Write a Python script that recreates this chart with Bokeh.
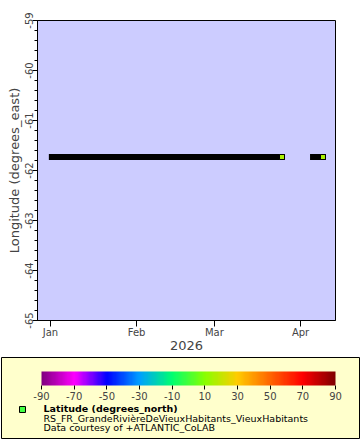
import numpy as np
from datetime import datetime
from bokeh.plotting import figure
from bokeh.layouts import column
from bokeh.models import (Range1d, SingleIntervalTicker, MonthsTicker, DatetimeTickFormatter,
                          LinearColorMapper, ColorBar, FixedTicker, ColumnDataSource,
                          PrintfTickFormatter)
from bokeh.core.properties import value
from bokeh.embed import file_html
from bokeh.resources import INLINE

# ---------------- data ----------------
# runs of (dense) observations: start time, end time, longitude, latitude
seg_start = [datetime(2026, 1, 1, 12), datetime(2026, 4, 5, 12)]
seg_end = [datetime(2026, 3, 25, 8), datetime(2026, 4, 9, 2)]
seg_lon = [-61.73, -61.73]
seg_lat = [16.05, 16.05]

x_start = datetime(2025, 12, 27, 8)
x_end = datetime(2026, 4, 13, 14)
y_start, y_end = -65, -59

cbar_ticks = [-90, -70, -50, -30, -10, 10, 30, 50, 70, 90]
cbar_anchor_colors = ["#800080", "#ff00ff", "#0000ff", "#00a0ff", "#00ff70",
                      "#88ff00", "#ffcc00", "#ff6600", "#ff0000", "#800000"]

legend_lines = ["Latitude (degrees_north)",
                "RS_FR_GrandeRivièreDeVieuxHabitants_VieuxHabitants",
                "Data courtesy of +ATLANTIC_CoLAB"]

FONT = "DejaVu Sans"

# palette from anchors
def hex2rgb(h):
    return [int(h[i:i + 2], 16) for i in (1, 3, 5)]

anc = np.array([hex2rgb(c) for c in cbar_anchor_colors], dtype=float)
pos = np.array(cbar_ticks, dtype=float)
vals = np.linspace(-90, 90, 256)
palette = []
for v in vals:
    rgb = [int(round(np.interp(v, pos, anc[:, k]))) for k in range(3)]
    palette.append("#%02x%02x%02x" % tuple(rgb))

mapper = LinearColorMapper(palette=palette, low=-90, high=90)

# ---------------- main plot ----------------
p = figure(width=360, height=355, x_axis_type="datetime",
           x_range=Range1d(x_start, x_end), y_range=Range1d(y_start, y_end),
           output_backend="svg", toolbar_location=None,
           min_border_left=37, min_border_top=20, min_border_right=25, min_border_bottom=35)
p.frame_align = False
p.background_fill_color = "#ccccff"
p.border_fill_color = "white"
p.outline_line_color = "black"
p.outline_line_width = 1
p.grid.visible = False

src = ColumnDataSource(dict(start=seg_start, end=seg_end, lon=seg_lon, lat=seg_lat))
p.segment(x0="start", y0="lon", x1="end", y1="lon", source=src,
          line_width=6, line_color="black", line_cap="square")
p.scatter(x="end", y="lon", source=src, marker="square", size=5,
          fill_color={"field": "lat", "transform": mapper}, line_color="black", line_width=1)

ya = p.yaxis[0]
ya.ticker = SingleIntervalTicker(interval=1, num_minor_ticks=5)
ya.formatter = PrintfTickFormatter(format="%d")
ya.major_label_orientation = "vertical"
ya.major_tick_out = 5
ya.major_tick_in = 0
ya.minor_tick_out = 3
ya.minor_tick_in = 0
ya.major_label_standoff = 0
ya.axis_label = "Longitude (degrees_east)"
ya.axis_label_standoff = 0
ya.axis_label_text_font_style = "normal"
ya.axis_label_text_font_size = "13px"
ya.axis_label_text_font = FONT
ya.major_label_text_font = FONT
ya.major_label_text_font_size = "10px"
ya.axis_line_color = "black"

xa = p.xaxis[0]
xa.ticker = MonthsTicker(months=list(range(12)))
xa.formatter = DatetimeTickFormatter(months="%b", days="%b", hours="%b")
xa.major_tick_out = 6
xa.major_tick_in = 0
xa.minor_tick_line_color = None
xa.major_label_standoff = 0
xa.axis_label = "2026"
xa.axis_label_standoff = 0
xa.axis_label_text_font_style = "normal"
xa.axis_label_text_font_size = "13px"
xa.axis_label_text_font = FONT
xa.major_label_text_font = FONT
xa.major_label_text_font_size = "10px"

# ---------------- legend panel ----------------
lg = figure(width=360, height=85, x_range=Range1d(0, 358), y_range=Range1d(81, 0),
            output_backend="svg", toolbar_location=None,
            x_axis_location=None, y_axis_location=None,
            min_border_left=1, min_border_right=1, min_border_top=2, min_border_bottom=2)
lg.frame_align = False
lg.background_fill_color = "#ffffcc"
lg.border_fill_color = "white"
lg.outline_line_color = "black"
lg.grid.visible = False

cb = ColorBar(color_mapper=mapper, orientation="horizontal", width=294, height=14,
              location=(40, 36), ticker=FixedTicker(ticks=cbar_ticks),
              formatter=PrintfTickFormatter(format="%d"),
              major_tick_out=4, major_tick_in=0, major_tick_line_color="black",
              major_label_text_font_size="10px", major_label_text_font=FONT,
              label_standoff=2, padding=0, background_fill_alpha=0,
              border_line_color=None, bar_line_color=None, title=None)
lg.add_layout(cb, "center")

lsrc = ColumnDataSource(dict(x=[21], y=[52]))
lg.scatter(x="x", y="y", source=lsrc, marker="square", size=6,
           fill_color="#44ff44", line_color="black", line_width=1)
tsrc = ColumnDataSource(dict(x=[42, 42, 42], y=[50.7, 60.7, 69.7], t=legend_lines,
                             st=["bold", "normal", "normal"]))
lg.text(x="x", y="y", text="t", source=tsrc, text_font=value(FONT), text_font_size="9.5px",
        text_font_style="st", text_baseline="middle", text_align="left", text_color="black")

layout = column(p, lg, spacing=0)
open("out.html", "w").write(file_html(layout, INLINE))
